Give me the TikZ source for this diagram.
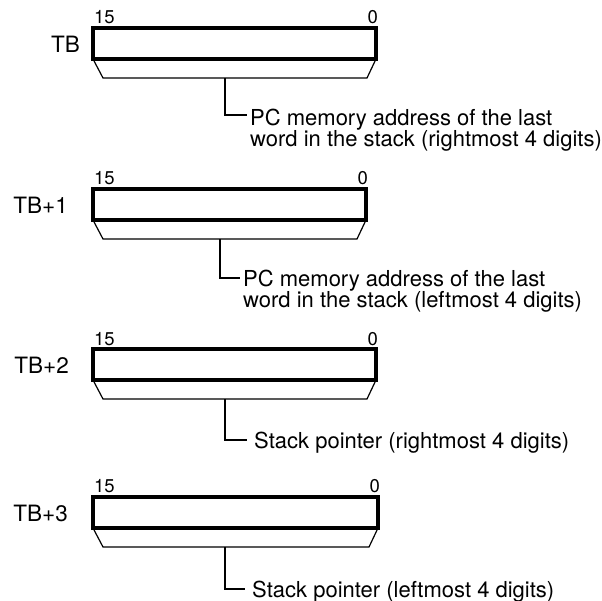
\documentclass[tikz,border=0pt]{standalone}
\usepackage{fontspec}
\setmainfont{TeX Gyre Heros}
\begin{document}
\begin{tikzpicture}[x=1pt,y=-1pt,
  regbox/.style={draw=black, line width=3.4pt, inner sep=0pt, outer sep=0pt,
    minimum height=31pt, anchor=north west},
  trap/.style={draw=black, line width=1.2pt, line join=miter},
  conn/.style={draw=black, line width=1.2pt},
  bitlbl/.style={inner sep=0pt, font=\fontsize{18.5}{18.5}\selectfont},
  reglbl/.style={inner sep=0pt, anchor=east, font=\fontsize{22.5}{22.5}\selectfont},
  desc/.style={inner sep=0pt, anchor=base west, align=left,
    font=\fontsize{22}{20.5}\selectfont}]
\useasboundingbox (0,0) rectangle (602,601);

% ---- TB ----
\node[regbox, minimum width=283pt] (r1) at (93,28) {};
\node[reglbl] (l1) at (80,44) {TB};
\node[bitlbl, anchor=base west] (a1) at (94,24) {15};
\node[bitlbl, anchor=base east] (z1) at (378,24) {0};
\path (r1.south west) ++(10,19) coordinate (t1a);
\path (r1.south east) ++(-9,19) coordinate (t1b);
\draw[trap] (r1.south west) -- (t1a) -- (t1b) -- (r1.south east);
\coordinate (v1) at (225,78);
\node[desc] (d1) at (250,147) {PC memory address of the last\\word in the stack (rightmost 4 digits)};
\draw[conn] (v1) |- ([shift={(-3,-32)}]d1.base west);

% ---- TB+1 ----
\node[regbox, minimum width=273pt] (r2) at (93,189) {};
\node[reglbl] (l2) at (68,205) {TB+1};
\node[bitlbl, anchor=base west] (a2) at (94,185) {15};
\node[bitlbl, anchor=base east] (z2) at (368,185) {0};
\path (r2.south west) ++(10,19) coordinate (t2a);
\path (r2.south east) ++(-9,19) coordinate (t2b);
\draw[trap] (r2.south west) -- (t2a) -- (t2b) -- (r2.south east);
\coordinate (v2) at (220,239);
\node[desc] (d2) at (243,308) {PC memory address of the last\\word in the stack (leftmost 4 digits)};
\draw[conn] (v2) |- ([shift={(-3,-30)}]d2.base west);

% ---- TB+2 ----
\node[regbox, minimum width=283pt] (r3) at (93,349) {};
\node[reglbl] (l3) at (69,365) {TB+2};
\node[bitlbl, anchor=base west] (a3) at (94,345) {15};
\node[bitlbl, anchor=base east] (z3) at (378,345) {0};
\path (r3.south west) ++(10,19) coordinate (t3a);
\path (r3.south east) ++(-9,19) coordinate (t3b);
\draw[trap] (r3.south west) -- (t3a) -- (t3b) -- (r3.south east);
\coordinate (v3) at (225,399);
\node[desc] (d3) at (254,448) {Stack pointer (rightmost 4 digits)};
\draw[conn] (v3) |- ([shift={(-7,-8)}]d3.base west);

% ---- TB+3 ----
\node[regbox, minimum width=285pt] (r4) at (93,497) {};
\node[reglbl] (l4) at (68,513) {TB+3};
\node[bitlbl, anchor=base west] (a4) at (94,492) {15};
\node[bitlbl, anchor=base east] (z4) at (380,492) {0};
\path (r4.south west) ++(10,19) coordinate (t4a);
\path (r4.south east) ++(-9,19) coordinate (t4b);
\draw[trap] (r4.south west) -- (t4a) -- (t4b) -- (r4.south east);
\coordinate (v4) at (225,547);
\node[desc] (d4) at (252,597) {Stack pointer (leftmost 4 digits)};
\draw[conn] (v4) |- ([shift={(-7,-8)}]d4.base west);
\end{tikzpicture}
\end{document}
